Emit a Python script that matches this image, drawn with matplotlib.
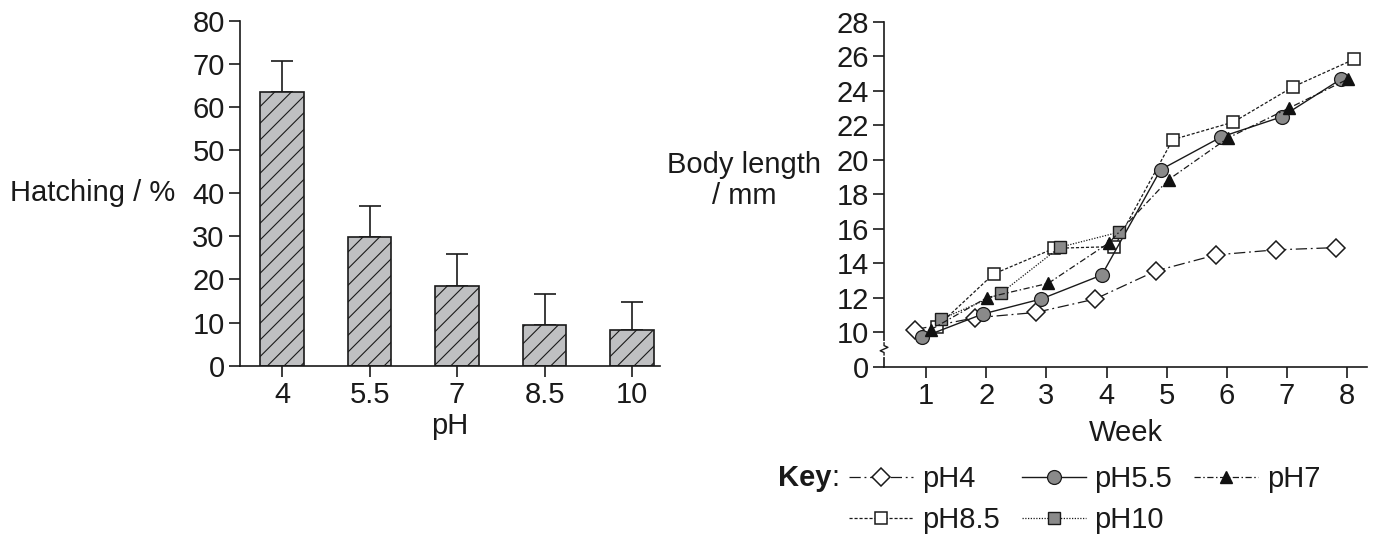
import matplotlib
matplotlib.use("Agg")
import matplotlib.pyplot as plt

plt.rcParams["font.family"] = ["Liberation Sans", "DejaVu Sans"]
plt.rcParams["hatch.linewidth"] = 0.8

# left panel: hatching vs pH
ph_labels = ["4", "5.5", "7", "8.5", "10"]
hatching = [63.5, 29.8, 18.5, 9.4, 8.2]
hatching_err = [7.1, 7.2, 7.4, 7.3, 6.6]

# right panel: body length per week (x jittered as in the source figure)
ph4_week = [0.82, 1.81, 2.82, 3.81, 4.82, 5.82, 6.81, 7.81]
ph4_len = [10.17, 10.85, 11.16, 11.94, 13.57, 14.5, 14.79, 14.92]
ph55_week = [0.93, 1.94, 2.91, 3.92, 4.9, 5.91, 6.91, 7.89]
ph55_len = [9.71, 11.07, 11.94, 13.33, 19.44, 21.34, 22.5, 24.67]
ph7_week = [1.08, 2.01, 3.03, 4.04, 5.03, 6.02, 7.04, 8.02]
ph7_len = [10.17, 12.02, 12.85, 15.2, 18.86, 21.28, 23.02, 24.7]
ph85_week = [1.18, 2.12, 3.13, 4.13, 5.1, 6.11, 7.1, 8.11]
ph85_len = [10.33, 13.39, 14.88, 14.98, 21.18, 22.2, 24.24, 25.83]
ph10_week = [1.24, 2.24, 3.22, 4.2]
ph10_len = [10.76, 12.27, 14.94, 15.81]

week_ticks = [1, 2, 3, 4, 5, 6, 7, 8]
len_ticks = [8, 10, 12, 14, 16, 18, 20, 22, 24, 26, 28]
len_labels = ["0", "10", "12", "14", "16", "18", "20", "22", "24", "26", "28"]

FS = 21
INK = "#1a1a1a"
fig = plt.figure(figsize=(13.85, 5.36), dpi=100)

# ---- bar chart
ax1 = fig.add_axes([0.1733, 0.3177, 0.3033, 0.6437])
pos = list(range(len(ph_labels)))
ax1.bar(pos, hatching, width=0.5, color="#bfc0c2", edgecolor=INK,
        linewidth=1.2, hatch="//", zorder=2)
ax1.errorbar(pos, hatching, yerr=[[0] * len(hatching), hatching_err], fmt="none",
             ecolor=INK, elinewidth=1.2, capsize=8, capthick=1.2, zorder=1)
ax1.set_xlim(-0.48, 4.32)
ax1.set_ylim(0, 80)
ax1.set_xticks(pos)
ax1.set_xticklabels(ph_labels)
ax1.set_yticks(range(0, 81, 10))
ax1.set_xlabel("pH", fontsize=FS, labelpad=2, color=INK)
ax1.set_ylabel("Hatching / %", fontsize=FS, rotation=0, ha="right", va="center",
               color=INK)
ax1.yaxis.set_label_coords(-0.155, 0.5)

# ---- line chart
ax2 = fig.add_axes([0.6383, 0.3153, 0.3487, 0.6437])
ax2.plot(ph4_week, ph4_len, color=INK, lw=0.9, dashes=(9, 3, 1.5, 3),
         marker="D", ms=9, mfc="white", mec=INK, mew=1.1, label="pH4", zorder=3)
ax2.plot(ph55_week, ph55_len, color=INK, lw=1.0, ls="-",
         marker="o", ms=10, mfc="#8a8a8a", mec=INK, mew=0.9, label="pH5.5", zorder=4)
ax2.plot(ph7_week, ph7_len, color=INK, lw=0.9, dashes=(5, 2, 1.2, 2),
         marker="^", ms=9, mfc="#111111", mec="#111111", label="pH7", zorder=5)
ax2.plot(ph85_week, ph85_len, color=INK, lw=0.9, dashes=(2.5, 1.5),
         marker="s", ms=9, mfc="white", mec=INK, mew=1.1, label="pH8.5", zorder=3)
ax2.plot(ph10_week, ph10_len, color=INK, lw=0.9, dashes=(1, 1.2),
         marker="s", ms=9, mfc="#8a8a8a", mec=INK, mew=1.0, label="pH10", zorder=4)
ax2.set_xlim(0.3, 8.33)
ax2.set_ylim(8, 28)
ax2.set_xticks(week_ticks)
ax2.set_yticks(len_ticks)
ax2.set_yticklabels(len_labels)
ax2.set_xlabel("Week", fontsize=FS, labelpad=6, color=INK)
ax2.set_ylabel("Body length\n/ mm", fontsize=FS, rotation=0, ha="center", va="center",
               color=INK, linespacing=1.15)
ax2.yaxis.set_label_coords(-0.29, 0.54)

# axis break mark on the y axis
zx = [0.0, 0.0, -0.008, 0.008, 0.0, 0.0]
zy = [0.035, 0.042, 0.047, 0.057, 0.062, 0.07]
ax2.plot([0, 0], [0.035, 0.07], transform=ax2.transAxes, color="white", lw=3,
         clip_on=False, zorder=6)
ax2.plot(zx, zy, transform=ax2.transAxes, color=INK, lw=1.0,
         clip_on=False, zorder=7)

for ax in (ax1, ax2):
    for side in ("top", "right"):
        ax.spines[side].set_visible(False)
    for side in ("left", "bottom"):
        ax.spines[side].set_linewidth(1.2)
        ax.spines[side].set_color(INK)
    ax.tick_params(labelsize=FS, length=8, width=1.2, color=INK,
                   labelcolor=INK, pad=3)

# key
handles, labels = ax2.get_legend_handles_labels()
order = [0, 3, 1, 4, 2]
fig.legend([handles[i] for i in order], [labels[i] for i in order],
           loc="upper left", bbox_to_anchor=(0.613, 0.132), ncol=3, frameon=False,
           fontsize=FS, handlelength=2.2, handletextpad=0.3, columnspacing=0.75,
           labelspacing=0.45, borderaxespad=0, borderpad=0, labelcolor=INK)
fig.text(0.5617, 0.108, "Key", fontsize=FS, fontweight="bold", ha="left", va="center",
         color=INK)
fig.text(0.6005, 0.108, ":", fontsize=FS, ha="left", va="center", color=INK)

fig.savefig("out.png", dpi=100, facecolor="white")
